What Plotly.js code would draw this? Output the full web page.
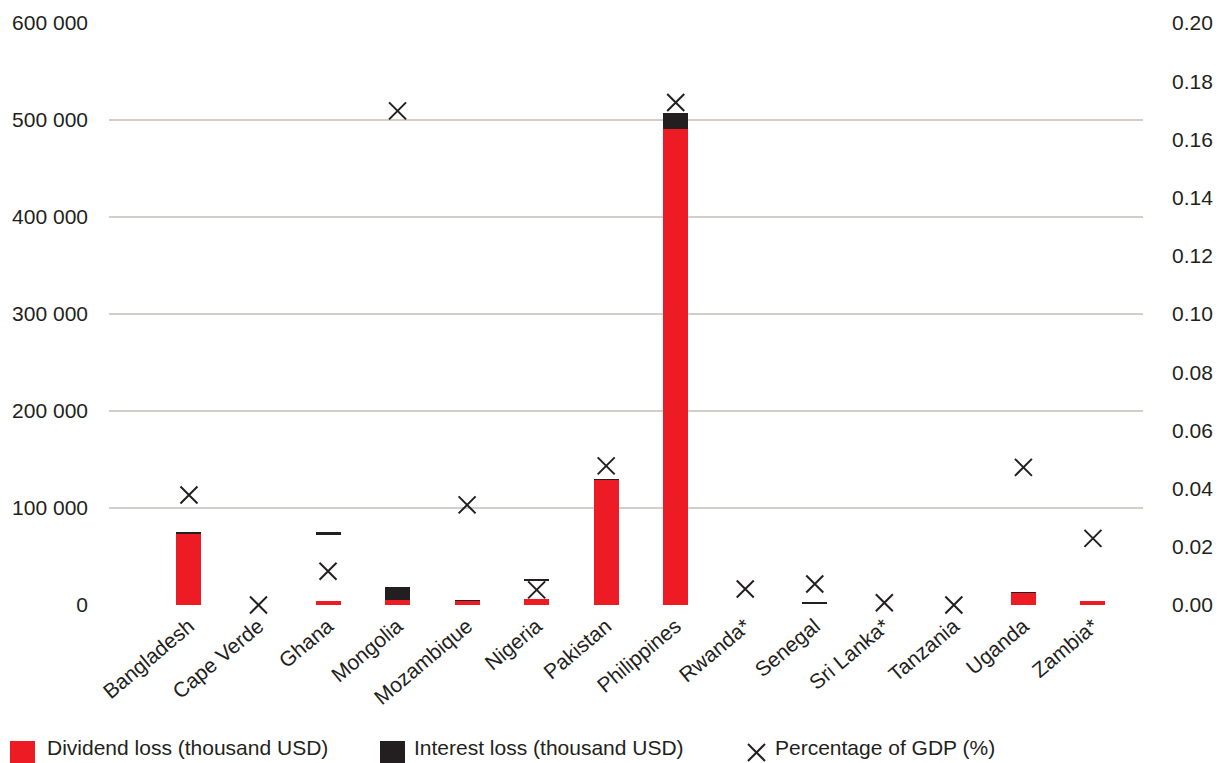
<!DOCTYPE html>
<html>
<head>
<meta charset="utf-8">
<script src="https://cdn.plot.ly/plotly-3.0.1.min.js"></script>
<style>html,body{margin:0;padding:0;background:#fff;}#chart{width:1223px;height:763px;}</style>
</head>
<body>
<div id="chart"></div>
<script>
const countries = ["Bangladesh","Cape Verde","Ghana","Mongolia","Mozambique","Nigeria","Pakistan","Philippines","Rwanda*","Senegal","Sri Lanka*","Tanzania","Uganda","Zambia*"];
const dividendLoss = [73500, 0, 4100, 5200, 4500, 6200, 129200, 490400, 0, 0, 0, 0, 12700, 4100];
const blankGap = [0, 0, 68100, 0, 0, 18800, 0, 0, 0, 1300, 0, 0, 0, 0];
const interestLoss = [1700, 0, 3100, 13400, 700, 1500, 1000, 17100, 0, 1700, 0, 0, 700, 0];
const gdpShare = [0.0378, 0, 0.0116, 0.1698, 0.0344, 0.0052, 0.0478, 0.1727, 0.0055, 0.0072, 0.0008, 0, 0.0473, 0.0229];
const leftTicks = [0, 100000, 200000, 300000, 400000, 500000, 600000];
const leftTickText = ["0", "100 000", "200 000", "300 000", "400 000", "500 000", "600 000"];
const rightTicks = [0, 0.02, 0.04, 0.06, 0.08, 0.10, 0.12, 0.14, 0.16, 0.18, 0.20];
const legendLabels = ["Dividend loss (thousand USD)", "Interest loss (thousand USD)", "Percentage of GDP (%)"];

const RED = "#ed1c24", BLACK = "#231f20", TXT = "#231f20", GRID = "#d3cec8";
const FONT = "Liberation Sans, Arial, sans-serif";
const FS = 21;

const traces = [
  {type: "bar", x: countries, y: dividendLoss, name: legendLabels[0], marker: {color: RED}, width: 0.36, yaxis: "y", hoverinfo: "x+y"},
  {type: "bar", x: countries, y: blankGap, name: "gap", marker: {color: "rgba(0,0,0,0)"}, width: 0.36, yaxis: "y", hoverinfo: "skip", showlegend: false},
  {type: "bar", x: countries, y: interestLoss, name: legendLabels[1], marker: {color: BLACK}, width: 0.36, yaxis: "y", hoverinfo: "x+y"},
  {type: "scatter", mode: "markers", x: countries, y: gdpShare, name: legendLabels[2], yaxis: "y2", cliponaxis: false,
   marker: {symbol: "x-thin-open", size: 17, color: BLACK, line: {width: 2, color: BLACK}}}
];

// custom legend (paper coords), plot area: x 109..1143, y 23..605
const W = 1034, H = 582;
const px = v => (v - 109) / W;
const py = v => (605 - v) / H;
const shapes = [
  {type: "rect", xref: "paper", yref: "paper", x0: px(10), x1: px(35), y0: py(741), y1: py(765), fillcolor: RED, line: {width: 0}},
  {type: "rect", xref: "paper", yref: "paper", x0: px(380), x1: px(405), y0: py(741), y1: py(765), fillcolor: BLACK, line: {width: 0}},
  {type: "line", xref: "paper", yref: "paper", x0: px(748), x1: px(765), y0: py(744), y1: py(761), line: {color: BLACK, width: 2}},
  {type: "line", xref: "paper", yref: "paper", x0: px(748), x1: px(765), y0: py(761), y1: py(744), line: {color: BLACK, width: 2}}
];
const annotations = [
  {xref: "paper", yref: "paper", x: px(45), y: py(761), xanchor: "left", yanchor: "bottom", text: legendLabels[0], showarrow: false, font: {size: FS, color: TXT, family: FONT}},
  {xref: "paper", yref: "paper", x: px(412), y: py(761), xanchor: "left", yanchor: "bottom", text: legendLabels[1], showarrow: false, font: {size: FS, color: TXT, family: FONT}},
  {xref: "paper", yref: "paper", x: px(773), y: py(761), xanchor: "left", yanchor: "bottom", text: legendLabels[2], showarrow: false, font: {size: FS, color: TXT, family: FONT}}
];

const layout = {
  width: 1223, height: 763,
  margin: {l: 109, r: 80, t: 23, b: 158, pad: 0},
  paper_bgcolor: "#fff", plot_bgcolor: "#fff",
  font: {family: FONT, size: FS, color: TXT},
  barmode: "stack",
  showlegend: false,
  xaxis: {type: "category", range: [-1.15, 13.72], tickangle: -40, showgrid: false, zeroline: false, showline: false,
          ticks: "", tickfont: {size: FS, color: TXT}, ticklabelstandoff: 4},
  yaxis: {range: [0, 600000], tickvals: leftTicks, ticktext: leftTickText, showgrid: true, gridcolor: GRID, gridwidth: 1.5,
          zeroline: false, showline: false, ticks: "", tickfont: {size: FS, color: TXT}, ticklabelstandoff: 20},
  yaxis2: {overlaying: "y", side: "right", range: [0, 0.20], tickvals: rightTicks, tickformat: ".2f", showgrid: false,
           zeroline: false, showline: false, ticks: "", tickfont: {size: FS, color: TXT}, ticklabelstandoff: 28},
  shapes: shapes,
  annotations: annotations
};

Plotly.newPlot("chart", traces, layout, {displayModeBar: false, staticPlot: true});
</script>
</body>
</html>
